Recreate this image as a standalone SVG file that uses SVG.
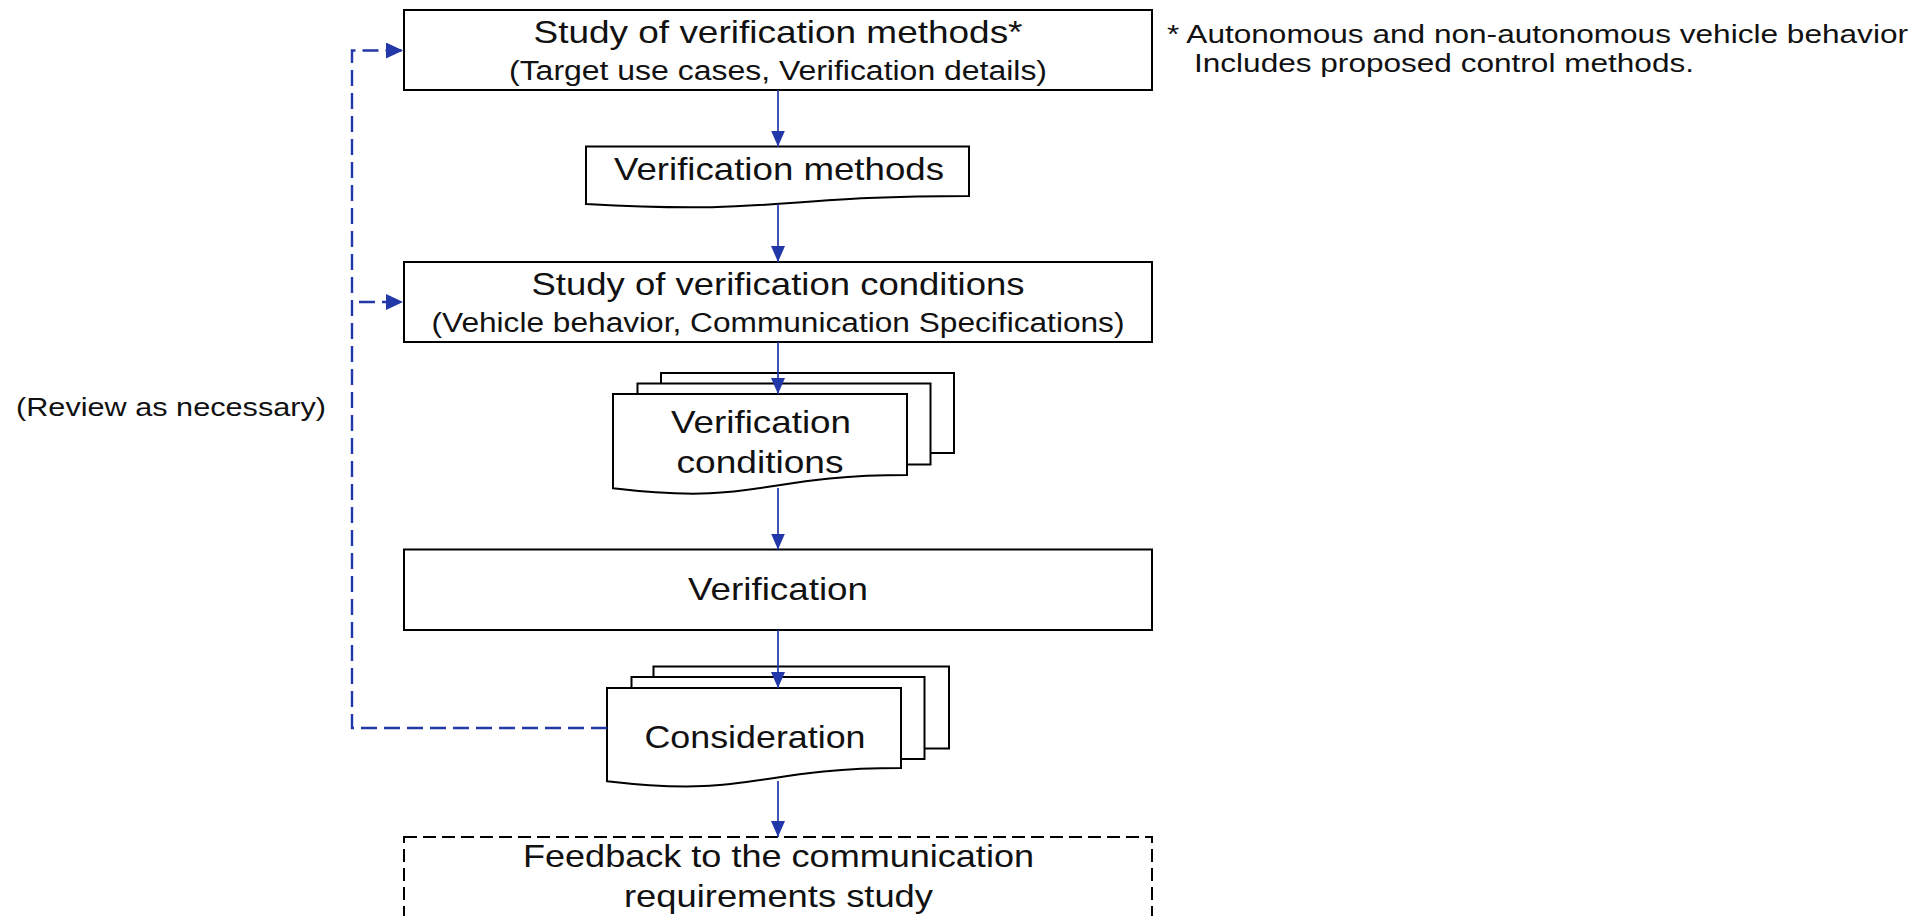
<svg xmlns="http://www.w3.org/2000/svg" width="1930" height="916" viewBox="0 0 1930 916">
  <style>
    .box { fill: #ffffff; stroke: #000000; stroke-width: 2; }
    .dashbox { fill: #ffffff; stroke: #000000; stroke-width: 2; stroke-dasharray: 13 6; }
    .lbl { font-family: "Liberation Sans", Arial, sans-serif; font-size: 32px; fill: #111111; text-anchor: middle; }
    .sub { font-size: 27px; }
    .note { font-family: "Liberation Sans", Arial, sans-serif; font-size: 26px; fill: #111111; }
    .flow { fill: none; stroke: #2237a8; stroke-width: 1.7; }
    .loop { fill: none; stroke: #2237a8; stroke-width: 2.4; stroke-dasharray: 16 7; }
  </style>
  <defs>
    <marker id="arrow" viewBox="0 0 16 14" refX="16" refY="7" markerWidth="16" markerHeight="14" markerUnits="userSpaceOnUse" orient="auto">
      <path d="M0,0 L16,7 L0,14 Z" fill="#2237a8"/>
    </marker>
    <marker id="arrowH" viewBox="0 0 17 16" refX="17" refY="8" markerWidth="17" markerHeight="16" markerUnits="userSpaceOnUse" orient="auto">
      <path d="M0,0 L17,8 L0,16 Z" fill="#2237a8"/>
    </marker>
  </defs>

  <rect width="1930" height="916" fill="#ffffff"/>

  <!-- Process: study of verification methods -->
  <g id="study-methods">
    <rect class="box" x="404" y="10" width="748" height="80"/>
    <text class="lbl" x="778" y="43" textLength="489" lengthAdjust="spacingAndGlyphs">Study of verification methods*</text>
    <text class="lbl sub" x="778" y="80" textLength="538" lengthAdjust="spacingAndGlyphs">(Target use cases, Verification details)</text>
  </g>

  <!-- Document: verification methods -->
  <g id="verification-methods">
    <path class="box" d="M586,146.5 H969 V196 C777.5,196 777.5,214.8 586,204 Z"/>
    <text class="lbl" x="779" y="180" textLength="330" lengthAdjust="spacingAndGlyphs">Verification methods</text>
  </g>

  <!-- Process: study of verification conditions -->
  <g id="study-conditions">
    <rect class="box" x="404" y="262" width="748" height="80"/>
    <text class="lbl" x="778" y="295" textLength="493" lengthAdjust="spacingAndGlyphs">Study of verification conditions</text>
    <text class="lbl sub" x="778" y="332" textLength="693" lengthAdjust="spacingAndGlyphs">(Vehicle behavior, Communication Specifications)</text>
  </g>

  <!-- Multi-document: verification conditions -->
  <g id="verification-conditions">
    <rect class="box" x="661" y="373" width="293" height="80"/>
    <rect class="box" x="637.5" y="383.5" width="293" height="81"/>
    <path class="box" d="M613,394 H907 V475 C760,475 760,505.8 613,488.3 Z"/>
    <text class="lbl" x="761" y="433" textLength="180" lengthAdjust="spacingAndGlyphs">Verification</text>
    <text class="lbl" x="760" y="473" textLength="167" lengthAdjust="spacingAndGlyphs">conditions</text>
  </g>

  <!-- Process: verification -->
  <g id="verification">
    <rect class="box" x="404" y="549.5" width="748" height="80.5"/>
    <text class="lbl" x="778" y="600" textLength="180" lengthAdjust="spacingAndGlyphs">Verification</text>
  </g>

  <!-- Multi-document: consideration -->
  <g id="consideration">
    <rect class="box" x="653.5" y="666.5" width="295.5" height="82"/>
    <rect class="box" x="631.5" y="677" width="293" height="82"/>
    <path class="box" d="M607,688 H901 V768 C754,768 754,798.4 607,781.2 Z"/>
    <text class="lbl" x="755" y="748" textLength="221" lengthAdjust="spacingAndGlyphs">Consideration</text>
  </g>

  <!-- Dashed process: feedback -->
  <g id="feedback">
    <rect class="dashbox" x="404" y="837" width="748" height="110"/>
    <text class="lbl" x="778.5" y="867" textLength="511" lengthAdjust="spacingAndGlyphs">Feedback to the communication</text>
    <text class="lbl" x="778.5" y="907" textLength="309" lengthAdjust="spacingAndGlyphs">requirements study</text>
  </g>

  <!-- Footnote and loop label -->
  <g id="footnote">
    <text class="note" x="1167" y="43" textLength="741" lengthAdjust="spacingAndGlyphs">* Autonomous and non-autonomous vehicle behavior</text>
    <text class="note" x="1194" y="72" textLength="500" lengthAdjust="spacingAndGlyphs">Includes proposed control methods.</text>
  </g>
  <g id="review-label">
    <text class="note" x="16" y="416" textLength="310" lengthAdjust="spacingAndGlyphs">(Review as necessary)</text>
  </g>

  <!-- Connectors -->
  <g id="connectors">
    <line class="flow" x1="778" y1="90" x2="778" y2="146.5" marker-end="url(#arrow)"/>
    <line class="flow" x1="778" y1="204" x2="778" y2="262" marker-end="url(#arrow)"/>
    <line class="flow" x1="778" y1="342" x2="778" y2="394" marker-end="url(#arrow)"/>
    <line class="flow" x1="778" y1="488" x2="778" y2="549.5" marker-end="url(#arrow)"/>
    <line class="flow" x1="778" y1="630" x2="778" y2="688" marker-end="url(#arrow)"/>
    <line class="flow" x1="778" y1="781" x2="778" y2="837" marker-end="url(#arrow)"/>
    <path class="loop" d="M607,728 H352 V50.5 H403" marker-end="url(#arrowH)"/>
    <path class="loop" d="M359,302 H403" marker-end="url(#arrowH)"/>
  </g>
</svg>
